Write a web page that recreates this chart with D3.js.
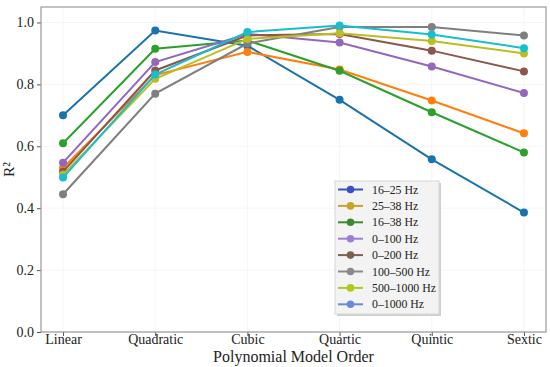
<!DOCTYPE html>
<html>
<head>
<meta charset="utf-8">
<script src="https://cdn.jsdelivr.net/npm/d3@7"></script>
<style>
  body { margin: 0; background: #fff; }
  text { font-family: "Liberation Serif", "Times New Roman", serif; fill: #222; }
</style>
</head>
<body>
<script>
// Model orders along the x axis
var orders = ["Linear", "Quadratic", "Cubic", "Quartic", "Quintic", "Sextic"];
var bands = ["16–25 Hz", "25–38 Hz", "16–38 Hz", "0–100 Hz", "0–200 Hz", "100–500 Hz", "500–1000 Hz", "0–1000 Hz"];
var yTicks = [0.0, 0.2, 0.4, 0.6, 0.8, 1.0];

// R² per band, one value per model order
var r16_25   = [0.700, 0.974, 0.925, 0.750, 0.558, 0.386];
var r25_38   = [0.530, 0.830, 0.905, 0.848, 0.748, 0.642];
var r16_38   = [0.610, 0.915, 0.942, 0.844, 0.710, 0.580];
var r0_100   = [0.547, 0.872, 0.963, 0.935, 0.858, 0.772];
var r0_200   = [0.518, 0.845, 0.958, 0.963, 0.909, 0.842];
var r100_500 = [0.445, 0.770, 0.932, 0.985, 0.985, 0.958];
var r500_1k  = [0.508, 0.818, 0.947, 0.965, 0.940, 0.900];
var r0_1k    = [0.499, 0.832, 0.969, 0.990, 0.961, 0.917];

var series = [r16_25, r25_38, r16_38, r0_100, r0_200, r100_500, r500_1k, r0_1k];
var lineColors = ["#1a72ae", "#ff7f0e", "#2ca02c", "#9467bd", "#8c564b", "#7f7f7f", "#bcbd22", "#17becf"];
var legendColors = ["#3652c4", "#caa22a", "#3c8a2e", "#9a80d4", "#7d6152", "#8a8a8a", "#b2c71e", "#6a8ad8"];

var margin = {top: 7, right: 4, bottom: 35, left: 41},
    W = 550, H = 367,
    width = W - margin.left - margin.right,
    height = H - margin.top - margin.bottom;

var svg = d3.select("body").append("svg")
    .attr("width", W)
    .attr("height", H)
  .append("g")
    .attr("transform", "translate(" + margin.left + "," + margin.top + ")");

var x = d3.scalePoint()
    .domain(orders)
    .range([0, width])
    .padding(0.239);

var y = d3.scaleLinear()
    .domain([0, 1.05])
    .range([height, 0]);

// faint grid
svg.append("g").selectAll("line.gy")
    .data(yTicks).enter().append("line")
    .attr("x1", 0).attr("x2", width)
    .attr("y1", function(d) { return y(d); })
    .attr("y2", function(d) { return y(d); })
    .attr("stroke", "#f2f2f2").attr("stroke-width", 0.8);
svg.append("g").selectAll("line.gx")
    .data(orders).enter().append("line")
    .attr("x1", function(d) { return x(d); })
    .attr("x2", function(d) { return x(d); })
    .attr("y1", 0).attr("y2", height)
    .attr("stroke", "#f2f2f2").attr("stroke-width", 0.8);

// axes
var xAxis = svg.append("g")
    .attr("transform", "translate(0," + height + ")")
    .call(d3.axisBottom(x).tickSize(4).tickPadding(0));
var yAxis = svg.append("g")
    .call(d3.axisLeft(y).tickValues(yTicks).tickFormat(d3.format(".1f")).tickSize(4).tickPadding(3));

[xAxis, yAxis].forEach(function(a) {
  a.select(".domain").remove();
  a.selectAll("line").attr("stroke", "#555");
  a.selectAll("text").style("font-size", "14px").style("font-family", "Liberation Serif, serif").attr("fill", "#222");
});
xAxis.selectAll("text").attr("dy", "0.55em");

// frame
svg.append("rect")
    .attr("width", width).attr("height", height)
    .attr("fill", "none").attr("stroke", "#999").attr("stroke-width", 1.2);

// lines
var line = d3.line()
    .x(function(d, i) { return x(orders[i]); })
    .y(function(d) { return y(d); });

series.forEach(function(s, k) {
  svg.append("path")
      .datum(s)
      .attr("fill", "none")
      .attr("stroke", lineColors[k])
      .attr("stroke-width", 2)
      .attr("d", line);
  svg.selectAll(".dot" + k)
      .data(s)
      .enter().append("circle")
      .attr("class", "dot" + k)
      .attr("cx", function(d, i) { return x(orders[i]); })
      .attr("cy", function(d) { return y(d); })
      .attr("r", 4)
      .attr("fill", lineColors[k]);
});

// axis labels
svg.append("text")
    .attr("x", width / 2)
    .attr("y", height + 30)
    .attr("text-anchor", "middle")
    .style("font-size", "16px")
    .text("Polynomial Model Order");

svg.append("text")
    .attr("transform", "translate(" + (-27) + "," + (height / 2) + ") rotate(-90)")
    .attr("text-anchor", "middle")
    .style("font-size", "15.5px")
    .text("R²");

// legend
var lg = svg.append("g")
    .attr("transform", "translate(" + (335 - margin.left) + "," + (181 - margin.top) + ")");

lg.append("rect")
    .attr("x", 2).attr("y", 2)
    .attr("width", 104).attr("height", 133)
    .attr("fill", "#cfcfcf");
lg.append("rect")
    .attr("width", 104).attr("height", 133)
    .attr("fill", "#f3f3f3").attr("stroke", "#d6d6d6");

var item = lg.selectAll(".legend")
    .data(bands)
    .enter().append("g")
    .attr("class", "legend")
    .attr("transform", function(d, i) { return "translate(0," + (8.5 + i * 16.4) + ")"; });

item.append("line")
    .attr("x1", 3).attr("x2", 28)
    .attr("stroke", function(d, i) { return legendColors[i]; })
    .attr("stroke-width", 2);
item.append("circle")
    .attr("cx", 15.5).attr("r", 3.8)
    .attr("fill", function(d, i) { return legendColors[i]; });
item.append("text")
    .attr("x", 37)
    .attr("dy", "0.35em")
    .style("font-size", "11.8px")
    .text(function(d) { return d; });
</script>
</body>
</html>
